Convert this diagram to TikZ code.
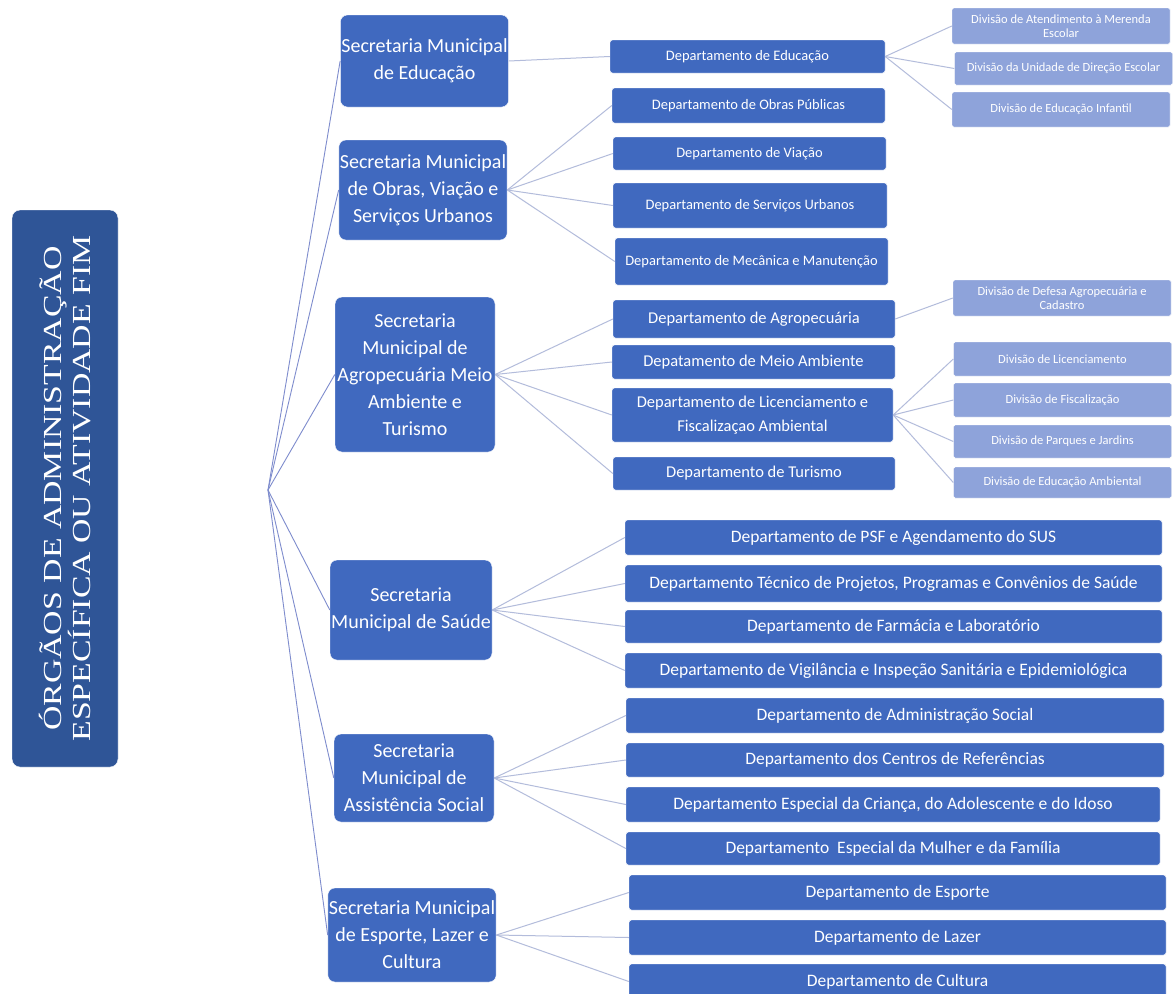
\documentclass[tikz,border=0pt]{standalone}
\usepackage{fontspec}
\setmainfont{Carlito}
\newfontfamily\titlefont{Liberation Serif}
\usetikzlibrary{positioning}

\definecolor{rootblue}{HTML}{2F5597}
\definecolor{boxblue}{HTML}{4069BF}
\definecolor{divblue}{HTML}{8EA3DA}
\definecolor{linkgray}{HTML}{B3BCDB}
\definecolor{spokeblue}{HTML}{7E8CCD}

\begin{document}
\begin{tikzpicture}[
    x=1pt, y=-1pt,
    orgao/.style={rectangle, draw=white, fill=rootblue, rounded corners=8pt, text=white, align=center, rotate=90, minimum width=557pt, minimum height=106pt, font=\titlefont\fontsize{26}{27}\selectfont},
    secretaria/.style={rectangle, draw=white, fill=boxblue, rounded corners=7pt, text=white, align=center, inner sep=1pt, font=\fontsize{20}{27}\selectfont},
    departamento/.style={rectangle, draw=white, fill=boxblue, rounded corners=2.5pt, text=white, align=center, inner sep=1pt, font=\fontsize{#1}{24}\selectfont},
    departamento/.default=17.5,
    divisao/.style={rectangle, draw=white, fill=divblue, rounded corners=1.5pt, text=white, align=center, inner sep=1pt, minimum width=218pt, font=\fontsize{12.5}{14}\selectfont},
    link/.style={draw=linkgray, line width=1pt},
    spoke/.style={draw=spokeblue, line width=0.9pt}
]

\fill[white] (0,0) rectangle (1174,993);
\useasboundingbox (0,0) rectangle (1174,993);

% Root
\node[orgao] (root) at (65,488.5) {\scalebox{1.3}[1]{ÓRGÃOS DE ADMINISTRAÇÃO}\\\scalebox{1.3}[1]{ESPECÍFICA OU ATIVIDADE FIM}};
\coordinate (hub) at (268,490);

% Secretarias
\node[secretaria, minimum width=167pt, minimum height=92pt] (secEdu) at (424.5,61) {Secretaria Municipal\\de Educação};
\node[secretaria, minimum width=168pt, minimum height=100pt] (secObras) at (423,190) {Secretaria Municipal\\de Obras, Viação e\\Serviços Urbanos};
\node[secretaria, minimum width=160pt, minimum height=155pt] (secAgro) at (415,374.5) {Secretaria\\Municipal de\\Agropecuária Meio\\Ambiente e\\Turismo};
\node[secretaria, minimum width=162pt, minimum height=100pt] (secSaude) at (411,610) {Secretaria\\Municipal de Saúde};
\node[secretaria, minimum width=160pt, minimum height=88pt] (secAssist) at (414,778) {Secretaria\\Municipal de\\Assistência Social};
\node[secretaria, minimum width=164pt, minimum height=94pt] (secEsporte) at (412,935) {Secretaria Municipal\\de Esporte, Lazer e\\Cultura};

% Departamentos - Educacao e Obras
\node[departamento=14.5, minimum width=275pt, minimum height=33pt] (depEdu) at (747.5,56.5) {Departamento de Educação};
\node[departamento=14.5, minimum width=273pt, minimum height=35pt] (depObras) at (748.5,105.5) {Departamento de Obras Públicas};
\node[departamento=14.5, minimum width=273pt, minimum height=33pt] (depViacao) at (749.5,153.5) {Departamento de Viação};
\node[departamento=14.5, minimum width=274pt, minimum height=45pt] (depServ) at (750,205.5) {Departamento de Serviços Urbanos};
\node[departamento=14.5, minimum width=273pt, minimum height=47pt] (depMec) at (751.5,261.5) {Departamento de Mecânica e Manutenção};

% Departamentos - Agropecuaria
\node[departamento=16.5, minimum width=282pt, minimum height=38pt] (depAgro) at (754,319) {Departamento de Agropecuária};
\node[departamento=16.5, minimum width=283pt, minimum height=34pt] (depMeio) at (753.5,362) {Depatamento de Meio Ambiente};
\node[departamento=16.5, minimum width=281pt, minimum height=54pt] (depLic) at (752.5,415) {Departamento de Licenciamento e\\Fiscalizaçao Ambiental};
\node[departamento=16.5, minimum width=282pt, minimum height=33pt] (depTur) at (754,473.5) {Departamento de Turismo};

% Departamentos - Saude
\node[departamento, minimum width=537pt, minimum height=35pt] (depPSF) at (893.5,537.5) {Departamento de PSF e Agendamento do SUS};
\node[departamento, minimum width=537pt, minimum height=37pt] (depTec) at (893.5,583.5) {Departamento Técnico de Projetos, Programas e Convênios de Saúde};
\node[departamento, minimum width=537pt, minimum height=33pt] (depFarm) at (893.5,626.5) {Departamento de Farmácia e Laboratório};
\node[departamento, minimum width=537pt, minimum height=35pt] (depVig) at (893.5,670.5) {Departamento de Vigilância e Inspeção Sanitária e Epidemiológica};

% Departamentos - Assistencia Social
\node[departamento, minimum width=538pt, minimum height=35pt] (depAdm) at (895,715.5) {Departamento de Administração Social};
\node[departamento, minimum width=538pt, minimum height=34pt] (depCentros) at (895,760) {Departamento dos Centros de Referências};
\node[departamento, minimum width=534pt, minimum height=35pt] (depCrianca) at (893,804.5) {Departamento Especial da Criança, do Adolescente e do Idoso};
\node[departamento, minimum width=534pt, minimum height=33pt] (depMulher) at (893,848.5) {Departamento\ \ Especial da Mulher e da Família};

% Departamentos - Esporte
\node[departamento, minimum width=537pt, minimum height=35pt] (depEsp) at (897.5,892.5) {Departamento de Esporte};
\node[departamento, minimum width=537pt, minimum height=35pt] (depLazer) at (897.5,937.5) {Departamento de Lazer};
\node[departamento, minimum width=537pt, minimum height=35pt] (depCultura) at (897.5,981.5) {Departamento de Cultura};

% Divisoes
\node[divisao, minimum height=36pt] (divMerenda) at (1061,26) {Divisão de Atendimento à Merenda\\Escolar};
\node[divisao, minimum height=33pt] (divUnidade) at (1063.5,68.5) {Divisão da Unidade de Direção Escolar};
\node[divisao, minimum height=35pt] (divInfantil) at (1061,109.5) {Divisão de Educação Infantil};
\node[divisao, minimum height=36pt] (divDefesa) at (1062,298) {Divisão de Defesa Agropecuária e\\Cadastro};
\node[divisao, minimum height=34pt] (divLic) at (1062.5,359) {Divisão de Licenciamento};
\node[divisao, minimum height=34pt] (divFisc) at (1062.5,400) {Divisão de Fiscalização};
\node[divisao, minimum height=33pt] (divParques) at (1062.5,441.5) {Divisão de Parques e Jardins};
\node[divisao, minimum height=31pt] (divAmb) at (1062.5,482.5) {Divisão de Educação Ambiental};

% Connectors
\foreach \s in {secEdu,secObras,secAgro,secSaude,secAssist,secEsporte}
    \draw[spoke] (hub) -- (\s.west);
\draw[link] (secEdu.east) -- (depEdu.west);
\foreach \d in {depObras,depViacao,depServ,depMec}
    \draw[link] (secObras.east) -- (\d.west);
\foreach \d in {depAgro,depMeio,depLic,depTur}
    \draw[link] (secAgro.east) -- (\d.west);
\foreach \d in {depPSF,depTec,depFarm,depVig}
    \draw[link] (secSaude.east) -- (\d.west);
\foreach \d in {depAdm,depCentros,depCrianca,depMulher}
    \draw[link] (secAssist.east) -- (\d.west);
\foreach \d in {depEsp,depLazer,depCultura}
    \draw[link] (secEsporte.east) -- (\d.west);
\foreach \d in {divMerenda,divUnidade,divInfantil}
    \draw[link] (depEdu.east) -- (\d.west);
\draw[link] (depAgro.east) -- (divDefesa.west);
\foreach \d in {divLic,divFisc,divParques,divAmb}
    \draw[link] (depLic.east) -- (\d.west);

\end{tikzpicture}
\end{document}
